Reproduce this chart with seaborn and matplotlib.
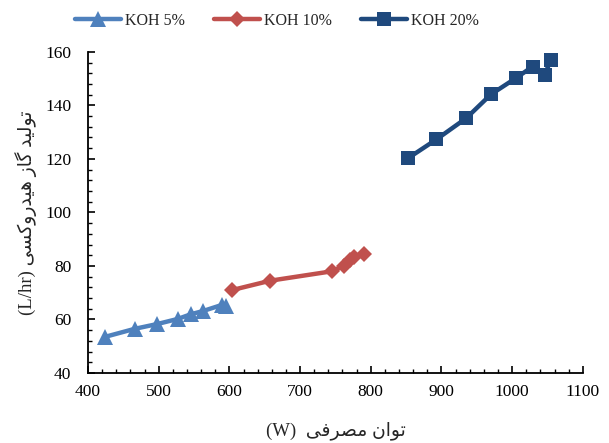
import matplotlib
matplotlib.use("Agg")
import matplotlib.pyplot as plt
from matplotlib.ticker import MultipleLocator
import seaborn as sns
import pandas as pd

# Measured series: electrical power (W) vs. HHO gas production (L/hr)
power_5 = [424, 466, 498, 527, 546, 562, 589, 595]
gas_5 = [53.5, 56.5, 58.3, 60.2, 62.0, 63.1, 65.4, 65.0]

power_10 = [604, 658, 745, 762, 770, 777, 790]
gas_10 = [71.0, 74.5, 78.0, 80.0, 82.3, 83.3, 84.6]

power_20 = [853, 893, 935, 970, 1006, 1029, 1046, 1055]
gas_20 = [120.3, 127.3, 135.2, 144.1, 150.3, 154.5, 151.5, 157.0]

series_names = ["KOH 5%", "KOH 10%", "KOH 20%"]
x_ticks = [400, 500, 600, 700, 800, 900, 1000, 1100]
y_ticks = [40, 60, 80, 100, 120, 140, 160]

x_title_fa = "توان مصرفی"
y_title_fa = "تولید گاز هیدروکسی"

# --- minimal Persian shaping (presentation forms + visual order) ---
FORMS = {  # isolated, final, initial, medial
    "ا": ("\uFE8D", "\uFE8E", None, None),
    "ت": ("\uFE95", "\uFE96", "\uFE97", "\uFE98"),
    "د": ("\uFEA9", "\uFEAA", None, None),
    "ر": ("\uFEAD", "\uFEAE", None, None),
    "ز": ("\uFEAF", "\uFEB0", None, None),
    "س": ("\uFEB1", "\uFEB2", "\uFEB3", "\uFEB4"),
    "ص": ("\uFEB9", "\uFEBA", "\uFEBB", "\uFEBC"),
    "ف": ("\uFED1", "\uFED2", "\uFED3", "\uFED4"),
    "ل": ("\uFEDD", "\uFEDE", "\uFEDF", "\uFEE0"),
    "م": ("\uFEE1", "\uFEE2", "\uFEE3", "\uFEE4"),
    "ن": ("\uFEE5", "\uFEE6", "\uFEE7", "\uFEE8"),
    "ه": ("\uFEE9", "\uFEEA", "\uFEEB", "\uFEEC"),
    "و": ("\uFEED", "\uFEEE", None, None),
    "ی": ("\uFBFC", "\uFBFD", "\uFBFE", "\uFBFF"),
    "ک": ("\uFB8E", "\uFB8F", "\uFB90", "\uFB91"),
    "گ": ("\uFB92", "\uFB93", "\uFB94", "\uFB95"),
}


def joins_next(ch):
    return ch in FORMS and FORMS[ch][2] is not None


def rtl(text):
    out = []
    for i, ch in enumerate(text):
        if ch not in FORMS:
            out.append(ch)
            continue
        prev = text[i - 1] if i > 0 else ""
        nxt = text[i + 1] if i + 1 < len(text) else ""
        a = joins_next(prev)
        b = joins_next(ch) and nxt in FORMS
        iso, fin, ini, med = FORMS[ch]
        if a and b:
            out.append(med)
        elif a:
            out.append(fin)
        elif b:
            out.append(ini)
        else:
            out.append(iso)
    return "".join(reversed(out))


df = pd.concat([
    pd.DataFrame({"power": power_5, "gas": gas_5, "series": series_names[0]}),
    pd.DataFrame({"power": power_10, "gas": gas_10, "series": series_names[1]}),
    pd.DataFrame({"power": power_20, "gas": gas_20, "series": series_names[2]}),
], ignore_index=True)

sns.set_theme(style="white")
plt.rcParams["font.family"] = ["Liberation Serif", "DejaVu Sans"]
plt.rcParams["mathtext.default"] = "regular"

fig = plt.figure(figsize=(6.09, 4.43), dpi=100)
ax = fig.add_axes([0.1445, 0.158, 0.8125, 0.725])

colors = ["#4F81BD", "#C0504D", "#1F497D"]
markers = ["^", "D", "s"]
sizes = [11, 8, 10]

for name, c, m, ms in zip(series_names, colors, markers, sizes):
    sub = df[df["series"] == name]
    sns.lineplot(data=sub, x="power", y="gas", ax=ax, color=c, marker=m,
                 markersize=ms, markeredgewidth=0, linewidth=3.2,
                 solid_capstyle="round", solid_joinstyle="round",
                 estimator=None, sort=False, label=name)

ax.set_xlim(400, 1100)
ax.set_ylim(40, 160)
ax.set_xticks(x_ticks)
ax.set_yticks(y_ticks)
ax.xaxis.set_minor_locator(MultipleLocator(20))
ax.yaxis.set_minor_locator(MultipleLocator(4))
ax.tick_params(axis="both", which="major", direction="in", length=5,
               width=1.2, color="black", labelsize=12.5, labelcolor="black",
               bottom=True, left=True)
ax.tick_params(axis="x", which="major", pad=8)
ax.tick_params(axis="y", which="major", pad=12)
ax.tick_params(axis="both", which="minor", direction="in", length=3,
               width=1.0, color="black", bottom=True, left=True)

for side in ["top", "right"]:
    ax.spines[side].set_visible(False)
for side in ["left", "bottom"]:
    ax.spines[side].set_color("black")
    ax.spines[side].set_linewidth(1.3)

ax.set_xlabel("(W)  " + rtl(x_title_fa), fontsize=13.5, labelpad=15)
ax.set_ylabel("(L/hr) " + rtl(y_title_fa), fontsize=13.5, labelpad=6)

ax.get_legend().remove()
handles, labels = ax.get_legend_handles_labels()
fig.legend(handles, labels, loc="center", bbox_to_anchor=(0.455, 0.953),
           ncol=3, frameon=False, fontsize=11.5, handlelength=2.9,
           handletextpad=0.25, columnspacing=1.8, borderaxespad=0)

fig.savefig("out.png", dpi=100)
